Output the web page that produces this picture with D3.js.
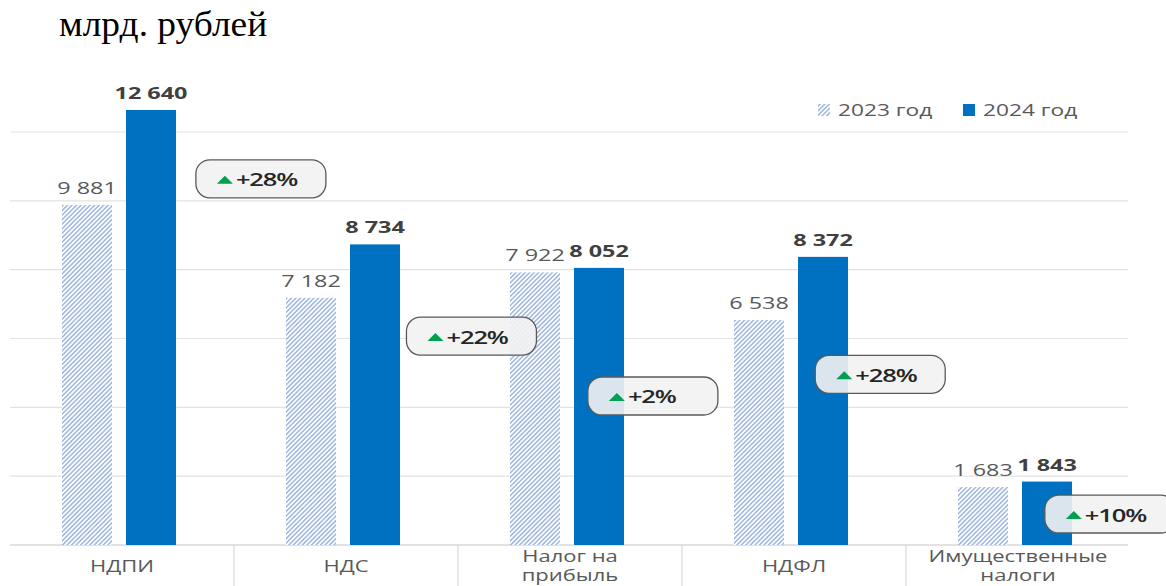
<!DOCTYPE html>
<html>
<head>
<meta charset="utf-8">
<script src="https://cdn.jsdelivr.net/npm/d3@7/dist/d3.min.js"></script>
<style>
  body { margin: 0; background: #fff; }
  svg { display: block; }
</style>
</head>
<body>
<script>
var categories = [["НДПИ"], ["НДС"], ["Налог на", "прибыль"], ["НДФЛ"], ["Имущественные", "налоги"]];
var years = ["2023 год", "2024 год"];
var values2023 = [9881, 7182, 7922, 6538, 1683];
var values2024 = [12640, 8734, 8052, 8372, 1843];
var growth = ["+28%", "+22%", "+2%", "+28%", "+10%"];
// where the growth bubbles sit: share of category band, value level
var bubbleX = [1.12, 1.06, 0.87, 0.885, 0.91];
var bubbleY = [10640, 6070, 4330, 4960, 900];
var yTicks = [0, 2000, 4000, 6000, 8000, 10000, 12000];

var width = 1166, height = 586;
var left = 10, right = 1130, base = 545;
var sx = 1.42; // text in the picture is stretched sideways

var svg = d3.select("body").append("svg")
  .attr("width", width).attr("height", height);

var defs = svg.append("defs");
var pat = defs.append("pattern")
  .attr("id", "hatch")
  .attr("patternUnits", "userSpaceOnUse")
  .attr("width", 3.2).attr("height", 3.2)
  .attr("patternTransform", "rotate(45)");
pat.append("rect").attr("width", 3.2).attr("height", 3.2).attr("fill", "#ffffff");
pat.append("line")
  .attr("x1", 0.8).attr("y1", 0).attr("x2", 0.8).attr("y2", 3.2)
  .attr("stroke", "#8eaadb").attr("stroke-width", 1.3);

var idx = d3.range(categories.length);
var x = d3.scaleBand().domain(idx).range([left, right]);
var xs = d3.scaleBand().domain(years).range([52, 166]).paddingInner(14 / 64);
var y = d3.scaleLinear().domain([0, 12000]).range([base, 132]);

function place(tx, ty, k) {
  return "translate(" + tx + "," + ty + ") scale(" + (k || sx) + ",1)";
}

// title
svg.append("text")
  .attr("transform", place(59, 36, 1.04))
  .attr("font-family", "Liberation Serif, Times New Roman, serif")
  .attr("font-size", 36)
  .attr("fill", "#000")
  .text("млрд. рублей");

// gridlines
svg.append("g").selectAll("line")
  .data(yTicks.slice(1))
  .enter().append("line")
  .attr("x1", left).attr("x2", right - 2)
  .attr("y1", function(d) { return y(d); })
  .attr("y2", function(d) { return y(d); })
  .attr("stroke", "#e3e3e3").attr("stroke-width", 1.2);

// axis
var xAxis = d3.axisBottom(x).tickSize(0).tickFormat("");
var gx = svg.append("g").attr("transform", "translate(0," + base + ")").call(xAxis);
gx.select(".domain").attr("stroke", "#d9d9d9").attr("stroke-width", 1.5)
  .attr("d", "M" + left + ",0H" + (right - 2));

svg.append("g").selectAll("line")
  .data(idx.slice(1))
  .enter().append("line")
  .attr("x1", function(d) { return x(d); })
  .attr("x2", function(d) { return x(d); })
  .attr("y1", base).attr("y2", height)
  .attr("stroke", "#d9d9d9").attr("stroke-width", 1.2);

var font = "Open Sans, Noto Sans, sans-serif";

// category labels
var cl = svg.append("g").selectAll("text")
  .data(idx)
  .enter().append("text")
  .attr("text-anchor", "middle")
  .attr("font-family", font)
  .attr("font-size", 15.5)
  .attr("fill", "#595959")
  .attr("transform", function(d) {
    return place(x(d) + x.bandwidth() / 2, categories[d].length > 1 ? 562 : 572);
  });
cl.selectAll("tspan")
  .data(function(d) { return categories[d]; })
  .enter().append("tspan")
  .attr("x", 0)
  .attr("dy", function(d, i) { return i === 0 ? 0 : 19; })
  .text(function(d) { return d; });

var fmt = function(v) { return d3.format(",")(v).replace(/,/g, " "); };

// 2023 bars
svg.append("g").selectAll("rect")
  .data(idx)
  .enter().append("rect")
  .attr("x", function(d) { return x(d) + xs(years[0]); })
  .attr("width", xs.bandwidth())
  .attr("y", function(d) { return y(values2023[d]); })
  .attr("height", function(d) { return base - y(values2023[d]); })
  .attr("fill", "url(#hatch)");

// 2024 bars
svg.append("g").selectAll("rect")
  .data(idx)
  .enter().append("rect")
  .attr("x", function(d) { return x(d) + xs(years[1]); })
  .attr("width", xs.bandwidth())
  .attr("y", function(d) { return y(values2024[d]); })
  .attr("height", function(d) { return base - y(values2024[d]); })
  .attr("fill", "#0070c0");

// value labels
svg.append("g").selectAll("text")
  .data(idx)
  .enter().append("text")
  .attr("text-anchor", "middle")
  .attr("font-family", font).attr("font-size", 16.5)
  .attr("fill", "#595959")
  .attr("transform", function(d) {
    return place(x(d) + xs(years[0]) + xs.bandwidth() / 2, y(values2023[d]) - 11);
  })
  .text(function(d) { return fmt(values2023[d]); });

svg.append("g").selectAll("text")
  .data(idx)
  .enter().append("text")
  .attr("text-anchor", "middle")
  .attr("font-family", font).attr("font-size", 16.5)
  .attr("font-weight", "bold")
  .attr("fill", "#404040")
  .attr("transform", function(d) {
    return place(x(d) + xs(years[1]) + xs.bandwidth() / 2, y(values2024[d]) - 11);
  })
  .text(function(d) { return fmt(values2024[d]); });

// growth bubbles
var bw = 130, bh = 38;
var bub = svg.append("g").selectAll("g")
  .data(idx)
  .enter().append("g")
  .attr("transform", function(d) {
    var cx = x(d) + x.bandwidth() * bubbleX[d];
    var cy = y(bubbleY[d]);
    return "translate(" + (cx - bw / 2) + "," + (cy - bh / 2) + ")";
  });
bub.append("rect")
  .attr("width", bw).attr("height", bh)
  .attr("rx", 14).attr("ry", 14)
  .attr("fill", "#f2f2f2").attr("fill-opacity", 0.9)
  .attr("stroke", "#595959").attr("stroke-width", 1.3);
bub.append("path")
  .attr("d", "M21,24L29,16L37,24Z")
  .attr("fill", "#00a050");
bub.append("text")
  .attr("transform", place(40, 26.5, 1.42))
  .attr("font-family", font).attr("font-size", 18)
  .attr("font-weight", 600)
  .attr("letter-spacing", -0.8)
  .attr("fill", "#262626")
  .text(function(d) { return growth[d]; });

// legend
var lg = svg.append("g");
lg.append("rect").attr("x", 818).attr("y", 104).attr("width", 12).attr("height", 12).attr("fill", "url(#hatch)");
lg.append("text").attr("transform", place(838, 115.5))
  .attr("font-family", font).attr("font-size", 16).attr("fill", "#595959").text(years[0]);
lg.append("rect").attr("x", 963).attr("y", 104).attr("width", 12).attr("height", 12).attr("fill", "#0070c0");
lg.append("text").attr("transform", place(983, 115.5))
  .attr("font-family", font).attr("font-size", 16).attr("fill", "#595959").text(years[1]);
</script>
</body>
</html>
